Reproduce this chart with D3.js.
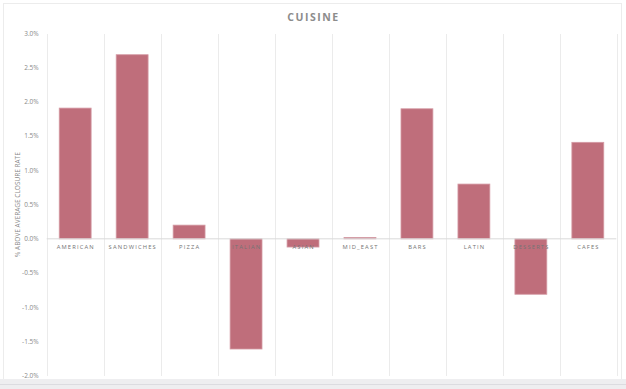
<!DOCTYPE html>
<meta charset="utf-8">
<style>

body {
  margin: 0;
  background: #fff;
  font-family: "Open Sans", sans-serif;
}

.grid line {
  stroke: #ebebeb;
  stroke-width: 1;
  shape-rendering: crispEdges;
}

.tick-label {
  font-size: 6.5px;
  fill: #8a8a8a;
}

.cat-label {
  font-size: 5.8px;
  fill: #747474;
  letter-spacing: 1.15px;
}

.bar {
  fill: #bf6e7b;
  stroke: #d49aa4;
  stroke-width: 0.8;
}

</style>
<body>
<script src="https://cdnjs.cloudflare.com/ajax/libs/d3/7.8.5/d3.min.js"></script>
<script>

var cuisines = ["AMERICAN", "SANDWICHES", "PIZZA", "ITALIAN", "ASIAN", "MID_EAST", "BARS", "LATIN", "DESSERTS", "CAFES"];
var aboveAvg = [1.91, 2.69, 0.2, -1.61, -0.12, 0.02, 1.9, 0.8, -0.81, 1.41];
var yTicks = [3.0, 2.5, 2.0, 1.5, 1.0, 0.5, 0.0, -0.5, -1.0, -1.5, -2.0];

var W = 626, H = 389;
var margin = {top: 33.5, right: 9.7, bottom: 13.3, left: 46.7},
    width = W - margin.left - margin.right,
    height = H - margin.top - margin.bottom;

var svg = d3.select("body").append("svg")
    .attr("width", W)
    .attr("height", H);

// frame + bottom strip
svg.append("rect")
    .attr("x", 3.5).attr("y", 3.5)
    .attr("width", 618).attr("height", 380)
    .attr("fill", "#fff")
    .attr("stroke", "#ececec");

svg.append("rect")
    .attr("x", 0).attr("y", 379)
    .attr("width", W).attr("height", 10)
    .attr("fill", "#eeeef0");
svg.append("line")
    .attr("x1", 0).attr("x2", W)
    .attr("y1", 384.5).attr("y2", 384.5)
    .attr("stroke", "#dcdce0");

var g = svg.append("g")
    .attr("transform", "translate(" + margin.left + "," + margin.top + ")");

var x = d3.scaleBand().domain(cuisines).range([0, width]).paddingInner(0.44).paddingOuter(0.22);
var band = d3.scaleBand().domain(cuisines).range([0, width]);
var y = d3.scaleLinear().domain([-2, 3]).range([height, 0]);

// vertical grid at category boundaries
var edges = cuisines.map(function(d) { return band(d); }).concat([width]);
g.append("g")
    .attr("class", "grid")
  .selectAll("line")
    .data(edges)
  .enter().append("line")
    .attr("x1", function(d) { return Math.round(d) + 0.5; })
    .attr("x2", function(d) { return Math.round(d) + 0.5; })
    .attr("y1", 0)
    .attr("y2", height);

// y tick labels
g.selectAll(".tick-label")
    .data(yTicks)
  .enter().append("text")
    .attr("class", "tick-label")
    .attr("x", -8)
    .attr("y", function(d) { return y(d); })
    .attr("dy", "0.35em")
    .attr("text-anchor", "end")
    .text(function(d) { return d.toFixed(1) + "%"; });

// bars
var data = cuisines.map(function(c, i) { return {name: c, value: aboveAvg[i]}; });

g.selectAll(".bar")
    .data(data)
  .enter().append("rect")
    .attr("class", "bar")
    .attr("x", function(d) { return x(d.name); })
    .attr("width", x.bandwidth())
    .attr("y", function(d) { return y(Math.max(0, d.value)); })
    .attr("height", function(d) { return Math.abs(y(d.value) - y(0)); });

// zero line
g.append("line")
    .attr("x1", 0).attr("x2", width)
    .attr("y1", y(0)).attr("y2", y(0))
    .attr("stroke", "#d9d9d9")
    .attr("stroke-width", 1);

// category labels
g.selectAll(".cat-label")
    .data(cuisines)
  .enter().append("text")
    .attr("class", "cat-label")
    .attr("x", function(d) { return band(d) + band.bandwidth() / 2 + 0.6; })
    .attr("y", y(0) + 8)
    .attr("dy", "0.35em")
    .attr("text-anchor", "middle")
    .text(function(d) { return d; });

// axis title
svg.append("text")
    .attr("transform", "translate(18," + (margin.top + height / 2) + ") rotate(-90)")
    .attr("text-anchor", "middle")
    .attr("dy", "0.35em")
    .style("font-size", "6.5px")
    .style("fill", "#8a8a8a")
    .text("% ABOVE AVERAGE CLOSURE RATE");

// title
svg.append("text")
    .attr("x", W / 2 + 0.5)
    .attr("y", 17)
    .attr("dy", "0.35em")
    .attr("text-anchor", "middle")
    .style("font-size", "10.5px")
    .style("font-weight", "bold")
    .style("letter-spacing", "1.5px")
    .style("fill", "#8c8c8c")
    .text("CUISINE");

</script>
</body>
